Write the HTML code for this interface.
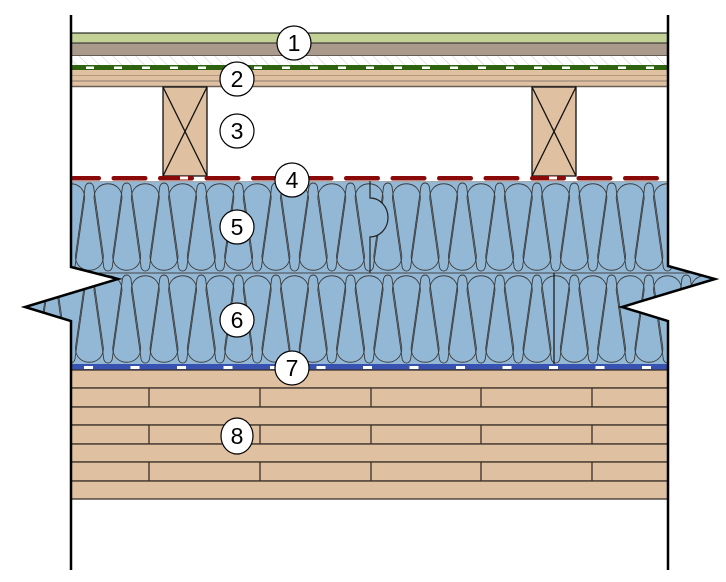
<!DOCTYPE html>
<html><head><meta charset="utf-8"><style>
html,body{margin:0;padding:0;background:#fff;width:726px;height:582px;overflow:hidden}
text{font-family:"Liberation Sans",sans-serif;font-size:23px;fill:#000}
</style></head><body>
<svg width="726" height="582" viewBox="0 0 726 582" xmlns="http://www.w3.org/2000/svg">
<defs>
<pattern id="hatch" width="8" height="8" patternUnits="userSpaceOnUse" patternTransform="rotate(-45)">
<line x1="0" y1="0" x2="0" y2="8" stroke="#ccc" stroke-width="1"/></pattern>
<clipPath id="ins"><polygon points="71,181 668,181 668,266 715,279 622,307 668,321 668,365 71,365 71,321 25,307 118,279 71,267"/></clipPath>
</defs>
<rect x="71" y="33" width="597" height="10" fill="#c3d196" stroke="#000" stroke-width="1"/>
<rect x="71" y="43" width="597" height="13" fill="#a99a8b" stroke="#222" stroke-width="1"/>
<rect x="71" y="56" width="597" height="9" fill="#fff"/>
<rect x="71" y="56" width="597" height="9" fill="url(#hatch)"/>
<rect x="71" y="65" width="597" height="5" fill="#2e6410"/>
<g id="gd" fill="#fff"></g>
<rect x="71" y="70" width="597" height="17" fill="#dfc0a0"/>
<line x1="71" y1="75.5" x2="668" y2="75.5" stroke="#b59a7f" stroke-width="1"/>
<line x1="71" y1="81" x2="668" y2="81" stroke="#9b8a7a" stroke-width="1.2"/>
<line x1="71" y1="86.5" x2="668" y2="86.5" stroke="#6b5f55" stroke-width="1.5"/>
<g stroke="#111" stroke-width="1.3" fill="#dfc0a0">
<rect x="163" y="87" width="44" height="89"/><line x1="163" y1="87" x2="207" y2="176"/><line x1="207" y1="87" x2="163" y2="176"/>
<rect x="532" y="87" width="44" height="89"/><line x1="532" y1="87" x2="576" y2="176"/><line x1="576" y1="87" x2="532" y2="176"/>
</g>
<g id="rd"></g>
<g clip-path="url(#ins)">
<rect x="20" y="181" width="700" height="184" fill="#93b8d6"/>
<g id="lobes" fill="none" stroke="#3c3c3c" stroke-width="0.9"></g>
<line x1="20" y1="273" x2="720" y2="273" stroke="#444" stroke-width="1"/>
<line x1="71" y1="181.5" x2="668" y2="181.5" stroke="#aaa" stroke-width="1"/>
</g>
<path d="M370,181 V198 A18,19.5 0 0 1 370,237 V273" fill="#93b8d6" stroke="#222" stroke-width="1.2"/>
<line x1="554" y1="273" x2="554" y2="365" stroke="#111" stroke-width="1.2"/>
<rect x="71" y="364" width="597" height="6" fill="#3752b0"/>
<g id="bd" fill="#fff"></g>
<g stroke="#3a3028" stroke-width="1.3" fill="#dfc0a0">
<rect x="71" y="370" width="597" height="18"/>
<rect x="71" y="388" width="597" height="19"/>
<rect x="71" y="407" width="597" height="18"/>
<rect x="71" y="425" width="597" height="19"/>
<rect x="71" y="444" width="597" height="18"/>
<rect x="71" y="462" width="597" height="19"/>
<rect x="71" y="481" width="597" height="18"/>
<path d="M149,388V407M260,388V407M371,388V407M481,388V407M592,388V407 M149,425V444M260,425V444M371,425V444M481,425V444M592,425V444 M149,462V481M260,462V481M371,462V481M481,462V481M592,462V481" fill="none"/>
</g>
<g stroke="#000" stroke-width="2.5" fill="none">
<polyline points="71,15 71,267 118,279 25,307 71,321 71,570"/>
<polyline points="668,15 668,266 715,279 622,307 668,321 668,570"/>
</g>
<g fill="#fff" stroke="#000" stroke-width="1.2">
<circle cx="294" cy="43" r="17"/><circle cx="237" cy="79" r="17"/><circle cx="237" cy="131" r="17"/>
<circle cx="292" cy="180" r="17"/><circle cx="237" cy="227" r="17"/><circle cx="237" cy="320" r="17"/>
<circle cx="292" cy="368" r="17"/><ellipse cx="237" cy="436" rx="16" ry="18"/>
</g>
<g text-anchor="middle">
<text x="294" y="51">1</text><text x="237" y="87">2</text><text x="237" y="139">3</text>
<text x="292" y="188">4</text><text x="237" y="235">5</text><text x="237" y="328">6</text>
<text x="292" y="376">7</text><text x="237" y="444">8</text>
</g>
</svg>
<script>
var NS="http://www.w3.org/2000/svg";
function el(p,t,a){var e=document.createElementNS(NS,t);for(var k in a)e.setAttribute(k,a[k]);p.appendChild(e);return e;}
var gd=document.getElementById('gd');
for(var x=86;x<668;x+=28)el(gd,'rect',{x:x,y:66.5,width:8,height:2.5});
var rd=document.getElementById('rd');
for(var x=65;x<668;x+=46.5){var x1=Math.max(71,x),x2=Math.min(668,x+36);if(x2>x1)el(rd,'rect',{x:x1,y:176,width:x2-x1,height:4.5,rx:2.2,fill:'#8a0a0a'});}
el(rd,'rect',{x:180,y:176.5,width:8,height:3,fill:'#fff'});
el(rd,'rect',{x:549,y:176.5,width:8,height:3,fill:'#fff'});
var bd=document.getElementById('bd');
for(var x=84;x<668;x+=46.5)el(bd,'rect',{x:x,y:366,width:9,height:3});
var lg=document.getElementById('lobes');
var R=14,r=4.5;
function up(cx,T,B){return 'M'+(cx-R)+','+(T+16)+' C'+(cx-R)+','+(T-3)+' '+(cx+R)+','+(T-3)+' '+(cx+R)+','+(T+16)+' L'+(cx+r)+','+(B-7)+' C'+(cx+r)+','+(B+1)+' '+(cx-r)+','+(B+1)+' '+(cx-r)+','+(B-7)+' Z';}
function dn(cx,T,B){return 'M'+(cx-R)+','+(B-16)+' C'+(cx-R)+','+(B+3)+' '+(cx+R)+','+(B+3)+' '+(cx+R)+','+(B-16)+' L'+(cx+r)+','+(T+7)+' C'+(cx+r)+','+(T-1)+' '+(cx-r)+','+(T-1)+' '+(cx-r)+','+(T+7)+' Z';}
[[182,272],[274,364]].forEach(function(l){
for(var k=-3;k<20;k++){var c=108+37.3*k;el(lg,'path',{d:up(c,l[0],l[1])});el(lg,'path',{d:dn(c-18.6,l[0],l[1])});}
});
</script>
</body></html>
